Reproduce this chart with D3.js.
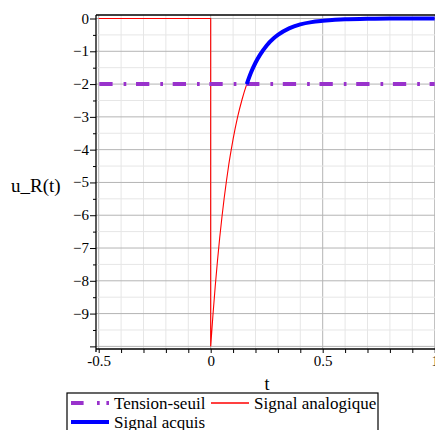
<!DOCTYPE html>
<html><head><meta charset="utf-8">
<script src="https://cdn.jsdelivr.net/npm/d3@7"></script>
<style>body{margin:0;background:#fff}svg{display:block}text{font-family:"Liberation Serif","Times New Roman",serif;fill:#000}</style>
</head><body><svg id="c" width="435" height="430"></svg>
<script>
// Data
const stepT = [-0.5, 0, 0];           // analog signal before t=0 and the jump
const stepU = [0, 0, -10];
const curveT = [0, 0.01, 0.02, 0.03, 0.04, 0.05, 0.06, 0.07, 0.08, 0.09, 0.10, 0.12, 0.14, 0.161, 0.18, 0.20, 0.22, 0.25, 0.28, 0.30, 0.35, 0.40, 0.45, 0.50, 0.60, 0.70, 0.80, 0.90, 1.0];
const curveU = [-10, -9.05, -8.19, -7.41, -6.70, -6.07, -5.49, -4.97, -4.49, -4.07, -3.68, -3.01, -2.47, -2.0, -1.65, -1.35, -1.11, -0.82, -0.61, -0.50, -0.30, -0.18, -0.11, -0.07, -0.02, -0.01, 0, 0, 0];
const acquisStartT = 0.161;
const seuilU = -2;
const xTickLabels = [-0.5, 0, 0.5, 1];
const yTickLabels = [0, -1, -2, -3, -4, -5, -6, -7, -8, -9];
const legendLabels = ["Tension-seuil", "Signal analogique", "Signal acquis"];
const colors = {seuil: "#9932cc", analog: "#ff0000", acquis: "#0000ff"};

const svg = d3.select("#c");
const x = d3.scaleLinear().domain([-0.512, 1.0]).range([96, 434.7]);
const y = d3.scaleLinear().domain([0.107, -10.08]).range([15, 349]);

// grid
const g = svg.append("g");
const minorX = d3.range(-5, 11).map(d => d / 10);
const minorY = d3.range(0, 21).map(d => -d / 2);
g.selectAll(".gx").data(minorX).enter().append("line")
  .attr("x1", d => x(d)).attr("x2", d => x(d)).attr("y1", 15).attr("y2", 349)
  .attr("stroke", d => (Math.abs(d * 2 - Math.round(d * 2)) < 1e-6) ? "#b4b4b4" : "#e6e6e6").attr("stroke-width", 1);
g.selectAll(".gy").data(minorY.filter(d => d >= -10)).enter().append("line")
  .attr("y1", d => y(d)).attr("y2", d => y(d)).attr("x1", 96).attr("x2", 435)
  .attr("stroke", d => Number.isInteger(d) ? "#b4b4b4" : "#e6e6e6").attr("stroke-width", 1);

// axes
const xAxis = d3.axisBottom(x).tickValues(minorX).tickSize(4).tickFormat(d => xTickLabels.some(v => Math.abs(v - d) < 1e-9) ? (d < 0 ? "-" + Math.abs(d) : String(d)) : "");
const ax = svg.append("g").attr("transform", "translate(0,349)").call(xAxis);
ax.select(".domain").attr("d", "M96,0H435").attr("stroke", "#000").attr("stroke-width", 1.3);
ax.selectAll(".tick line").attr("stroke", "#000");
ax.selectAll(".tick text").attr("y", 6).attr("font-size", 15).attr("font-family", "Liberation Serif");

const yAxis = d3.axisLeft(y).tickValues(minorY).tickSize(0).tickFormat("");
const ay = svg.append("g").attr("transform", "translate(96,0)").call(yAxis);
ay.select(".domain").attr("d", "M0,15V352").attr("stroke", "#000").attr("stroke-width", 1.3);
ay.selectAll(".tick").append("line").attr("x1", d => Number.isInteger(d) ? -6 : -3).attr("x2", 0).attr("stroke", "#000");
svg.append("g").selectAll("text").data(yTickLabels).enter().append("text")
  .attr("x", 89).attr("y", d => y(d) + 5).attr("text-anchor", "end").attr("font-size", 15)
  .text(d => d === 0 ? "0" : "\u2212" + Math.abs(d));
// top frame line
svg.append("line").attr("x1", 96).attr("x2", 435).attr("y1", 15).attr("y2", 15).attr("stroke", "#000").attr("stroke-width", 1.3);

// series
const lin = d3.line().x(d => x(d[0])).y(d => y(d[1]));
const smooth = d3.line().x(d => x(d[0])).y(d => y(d[1])).curve(d3.curveMonotoneX);
const curvePts = curveT.map((t, i) => [t, curveU[i]]);
const stepPts = stepT.map((t, i) => [t, stepU[i]]);
svg.append("path")
  .attr("d", lin(stepPts) + smooth(curvePts).replace(/^M/, "L"))
  .attr("fill", "none").attr("stroke", colors.analog).attr("stroke-width", 1.1);
svg.append("path").datum([[-0.512, seuilU], [1.0, seuilU]]).attr("d", lin)
  .attr("fill", "none").attr("stroke", colors.seuil).attr("stroke-width", 4)
  .attr("stroke-dasharray", "13.3,11,2.7,9.7").attr("stroke-dashoffset", 33.4);
svg.append("path").datum(curvePts.filter(d => d[0] >= acquisStartT)).attr("d", smooth)
  .attr("fill", "none").attr("stroke", colors.acquis).attr("stroke-width", 4);

// labels
svg.append("text").attr("x", 11).attr("y", 192).attr("font-size", 19).text("u_R(t)");
svg.append("text").attr("x", 267).attr("y", 390).attr("text-anchor", "middle").attr("font-size", 18).text("t");

// legend
const lg = svg.append("g");
lg.append("rect").attr("x", 67).attr("y", 393).attr("width", 311).attr("height", 60).attr("fill", "#fff").attr("stroke", "#000").attr("stroke-width", 1.2);
const items = [
  {label: legendLabels[0], color: colors.seuil, w: 4, dash: "12.6,13.4,2.7,6.7,2.7,20", x: 71, y: 403},
  {label: legendLabels[1], color: colors.analog, w: 1.5, dash: null, x: 211, y: 403},
  {label: legendLabels[2], color: colors.acquis, w: 4, dash: null, x: 71, y: 422}
];
items.forEach(it => {
  const l = lg.append("line").attr("x1", it.x).attr("x2", it.x + 38).attr("y1", it.y).attr("y2", it.y)
    .attr("stroke", it.color).attr("stroke-width", it.w);
  if (it.dash) l.attr("stroke-dasharray", it.dash);
  lg.append("text").attr("x", it.x + 43).attr("y", it.y + 6).attr("font-size", 17).text(it.label);
});
</script></body></html>
